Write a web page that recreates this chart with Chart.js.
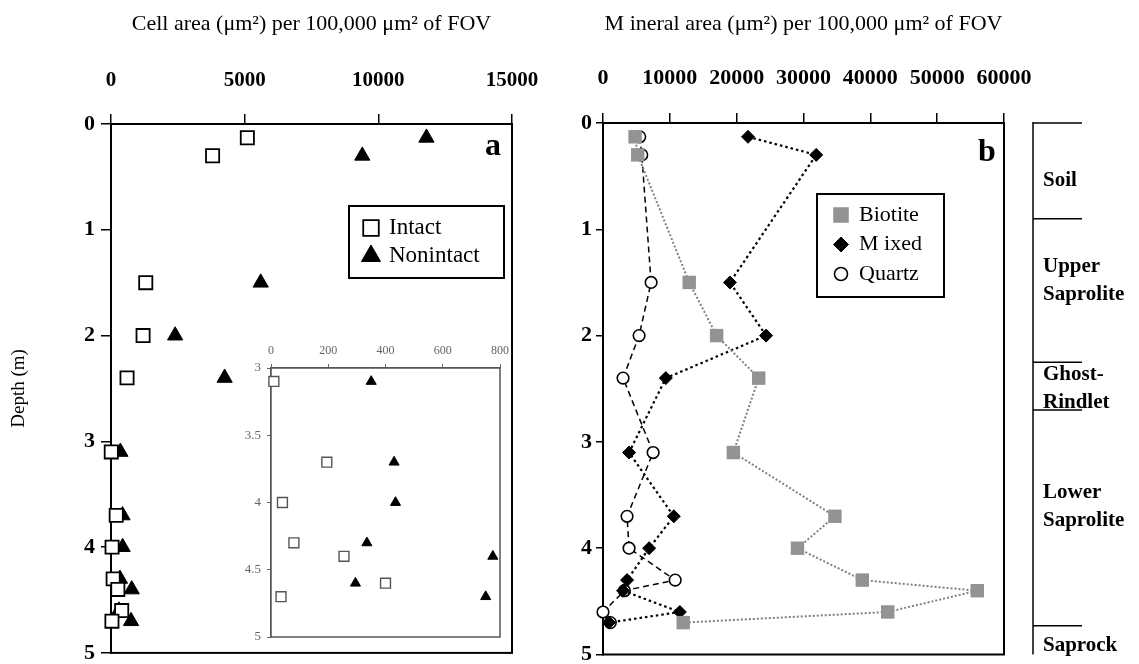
<!DOCTYPE html>
<html>
<head>
<meta charset="utf-8">
<title>Cell and mineral area with depth</title>
<script src="https://cdn.jsdelivr.net/npm/chart.js@4.4.0/dist/chart.umd.min.js"></script>
<style>
  html, body { margin: 0; padding: 0; background: #fff; }
  #wrap { position: relative; width: 1139px; height: 664px; overflow: hidden; }
  .box { position: absolute; }
</style>
</head>
<body>
<div id="wrap">
  <div class="box" style="left:0;top:0"><canvas id="cellChart" width="560" height="664"></canvas></div>
  <div class="box" style="left:560px;top:0"><canvas id="mineralChart" width="579" height="664"></canvas></div>
  <div class="box" style="left:225px;top:330px"><canvas id="insetChart" width="290" height="320"></canvas></div>
</div>
<script>
// sample depths (m), same for both panels
const depths = [0.13, 0.3, 1.5, 2.0, 2.4, 3.1, 3.7, 4.0, 4.3, 4.4, 4.6, 4.7];

// panel a: cell area (um2) per 100,000 um2 of FOV
const intact    = [5100, 3800, 1300, 1200, 600, 10, 195, 40, 80, 255, 400, 35];
const nonintact = [11800, 9400, 5600, 2400, 4250, 350, 430, 435, 335, 775, 295, 750];

// panel b: mineral area (um2) per 100,000 um2 of FOV
const biotite = [4800, 5200, 12900, 17000, 23300, 19500, 34700, 29100, 38800, 56000, 42600, 12000];
const mixed   = [21700, 31900, 19000, 24400, 9400, 3900, 10600, 6900, 3600, 3000, 11500, 900];
const quartz  = [5500, 5800, 7200, 5400, 3000, 7500, 3600, 3900, 10800, 3200, 0, 1100];

// axis ticks
const cellTicks    = [0, 5000, 10000, 15000];
const mineralTicks = [0, 10000, 20000, 30000, 40000, 50000, 60000];
const depthTicks   = [0, 1, 2, 3, 4, 5];
const insetXTicks  = [0, 200, 400, 600, 800];
const insetYTicks  = [3, 3.5, 4, 4.5, 5];

// weathering zones on the right of panel b
const zoneNames = ["Soil", "Upper\nSaprolite", "Ghost-\nRindlet", "Lower\nSaprolite", "Saprock"];
const zoneTops  = [0, 0.9, 2.25, 2.7, 4.73];

const serif = "'Liberation Serif', 'Times New Roman', serif";
Chart.defaults.font.family = serif;
Chart.defaults.color = "#000";

const toPoints = (vals) => vals.map((v, i) => ({ x: v, y: depths[i] }));
const setTicks = (list) => (s) => { s.ticks = list.map(value => ({ value })); };
const plain = (v) => String(v);

// --- plugins ---
const frame = {
  id: "frame",
  beforeDatasetsDraw(chart, args, o) {
    const a = chart.chartArea, ctx = chart.ctx;
    ctx.save();
    if (o.fill) {
      ctx.fillStyle = o.fill;
      ctx.fillRect(a.left, a.top, a.right - a.left, a.bottom - a.top);
    }
    ctx.strokeStyle = o.color || "#000";
    ctx.lineWidth = o.width || 2;
    ctx.strokeRect(a.left, a.top, a.right - a.left, a.bottom - a.top);
    ctx.restore();
  }
};

const boxLegend = {
  id: "boxLegend",
  afterDraw(chart, args, o) {
    const ctx = chart.ctx;
    ctx.save();
    ctx.fillStyle = "#fff";
    ctx.fillRect(o.left, o.top, o.width, o.height);
    ctx.strokeStyle = "#000";
    ctx.lineWidth = 2;
    ctx.strokeRect(o.left, o.top, o.width, o.height);
    chart.data.datasets.forEach((ds, i) => {
      const y = o.top + o.firstRow + i * o.rowGap;
      ctx.fillStyle = ds.pointBackgroundColor;
      ctx.strokeStyle = ds.pointBorderColor;
      ctx.lineWidth = ds.pointBorderWidth;
      Chart.helpers.drawPoint(ctx, {
        pointStyle: ds.pointStyle, rotation: 0,
        radius: o.radii[i], borderWidth: ds.pointBorderWidth
      }, o.left + o.markerX, y);
      ctx.fillStyle = "#000";
      ctx.font = o.font;
      ctx.textAlign = "left";
      ctx.textBaseline = "middle";
      ctx.fillText(ds.label, o.left + o.textX, y);
    });
    ctx.restore();
  }
};

const panelTag = {
  id: "panelTag",
  afterDraw(chart, args, o) {
    const ctx = chart.ctx;
    ctx.save();
    ctx.font = "bold 32px " + serif;
    ctx.textAlign = "center";
    ctx.textBaseline = "middle";
    ctx.fillStyle = "#000";
    ctx.fillText(o.text, o.x, o.y);
    ctx.restore();
  }
};

const zones = {
  id: "zones",
  afterDraw(chart, args, o) {
    const y = chart.scales.y, ctx = chart.ctx;
    ctx.save();
    ctx.strokeStyle = "#000";
    ctx.lineWidth = 1.5;
    ctx.beginPath();
    ctx.moveTo(o.lineX, y.getPixelForValue(0) - 1);
    ctx.lineTo(o.lineX, y.getPixelForValue(5));
    ctx.stroke();
    zoneTops.forEach(d => {
      const py = y.getPixelForValue(d);
      ctx.beginPath();
      ctx.moveTo(o.lineX, py);
      ctx.lineTo(o.lineX + o.tickLen, py);
      ctx.stroke();
    });
    ctx.font = "bold 21px " + serif;
    ctx.fillStyle = "#000";
    ctx.textAlign = "left";
    ctx.textBaseline = "middle";
    zoneNames.forEach((name, i) => {
      const lines = name.split("\n");
      const py = y.getPixelForValue(o.labelDepths[i]);
      lines.forEach((ln, j) => {
        ctx.fillText(ln, o.textX, py + (j - (lines.length - 1) / 2) * o.lineHeight);
      });
    });
    ctx.restore();
  }
};

// shared axis pieces
function topAxis(min, max, ticks, height, extra) {
  return Object.assign({
    type: "linear", position: "top", min, max,
    afterBuildTicks: setTicks(ticks),
    afterFit: (s) => { s.height = height; s.paddingLeft = 0; s.paddingRight = 0; },
    grid: { drawOnChartArea: false, tickLength: 10, color: "#000", lineWidth: 1.5 },
    border: { color: "#000", width: 2 }
  }, extra);
}
function depthAxis(min, max, ticks, width, extra) {
  return Object.assign({
    type: "linear", position: "left", reverse: true, min, max,
    afterBuildTicks: setTicks(ticks),
    afterFit: (s) => { s.width = width; s.paddingTop = 0; s.paddingBottom = 0; },
    grid: { drawOnChartArea: false, tickLength: 10, color: "#000", lineWidth: 1.5 },
    border: { color: "#000", width: 2 }
  }, extra);
}

const baseOptions = {
  responsive: false,
  animation: false,
  devicePixelRatio: 1,
  events: []
};

// --- panel a ---
new Chart(document.getElementById("cellChart"), {
  type: "scatter",
  data: {
    datasets: [
      {
        label: "Intact", data: toPoints(intact), clip: false,
        pointStyle: "rect", pointRadius: 9.3,
        pointBackgroundColor: "#fff", pointBorderColor: "#000", pointBorderWidth: 1.8
      },
      {
        label: "Nonintact", data: toPoints(nonintact), clip: false,
        pointStyle: "triangle", pointRadius: 8.8,
        pointBackgroundColor: "#000", pointBorderColor: "#000", pointBorderWidth: 1
      }
    ]
  },
  options: Object.assign({}, baseOptions, {
    layout: { padding: { left: 0, top: 0, right: 48, bottom: 11 } },
    plugins: {
      legend: { display: false },
      tooltip: { enabled: false },
      frame: { width: 2 },
      boxLegend: {
        left: 349, top: 206, width: 155, height: 72,
        firstRow: 22, rowGap: 28, markerX: 22, textX: 40,
        radii: [11, 11], font: "23px " + serif
      },
      panelTag: { text: "a", x: 493, y: 147 }
    },
    scales: {
      x: topAxis(0, 15000, cellTicks, 124, {
        ticks: { font: { size: 21, weight: "bold" }, padding: 21, callback: plain, maxRotation: 0, autoSkip: false },
        title: { display: true, text: "Cell area (μm²) per 100,000 μm² of FOV", font: { size: 22 }, padding: { top: 11, bottom: 0 } }
      }),
      y: depthAxis(0, 5, depthTicks, 111, {
        ticks: { font: { size: 22, weight: "bold" }, padding: 6, callback: plain },
        title: { display: true, text: "Depth (m)", font: { size: 19 }, padding: { top: 8, bottom: 0 } }
      })
    }
  }),
  plugins: [frame, boxLegend, panelTag]
});

// --- inset of panel a (deeper samples) ---
const deep = depths.map((d, i) => i).filter(i => depths[i] >= 3);
new Chart(document.getElementById("insetChart"), {
  type: "scatter",
  data: {
    datasets: [
      {
        label: "Intact", data: deep.map(i => ({ x: intact[i], y: depths[i] })), clip: false,
        pointStyle: "rect", pointRadius: 7,
        pointBackgroundColor: "#fff", pointBorderColor: "#555", pointBorderWidth: 1.4
      },
      {
        label: "Nonintact", data: deep.map(i => ({ x: nonintact[i], y: depths[i] })), clip: false,
        pointStyle: "triangle", pointRadius: 5.8,
        pointBackgroundColor: "#000", pointBorderColor: "#000", pointBorderWidth: 1
      }
    ]
  },
  options: Object.assign({}, baseOptions, {
    layout: { padding: { left: 0, top: 0, right: 15, bottom: 13 } },
    plugins: {
      legend: { display: false },
      tooltip: { enabled: false },
      frame: { fill: "#fff", color: "#555", width: 1.5 }
    },
    scales: {
      x: topAxis(0, 800, insetXTicks, 38, {
        ticks: { font: { size: 12 }, color: "#666", padding: 6, callback: plain, maxRotation: 0, autoSkip: false },
        grid: { drawOnChartArea: false, tickLength: 4, color: "#666", lineWidth: 1 },
        border: { color: "#555", width: 1.5 }
      }),
      y: depthAxis(3, 5, insetYTicks, 46, {
        ticks: { font: { size: 13 }, color: "#666", padding: 6, callback: plain },
        grid: { drawOnChartArea: false, tickLength: 4, color: "#666", lineWidth: 1 },
        border: { color: "#555", width: 1.5 }
      })
    }
  }),
  plugins: [frame]
});

// --- panel b ---
new Chart(document.getElementById("mineralChart"), {
  type: "scatter",
  data: {
    datasets: [
      {
        label: "Biotite", data: toPoints(biotite), showLine: true, clip: false,
        borderColor: "#808080", borderWidth: 2, borderDash: [2, 2], tension: 0,
        pointStyle: "rect", pointRadius: 9.5,
        pointBackgroundColor: "#939393", pointBorderColor: "#939393", pointBorderWidth: 0
      },
      {
        label: "M ixed", data: toPoints(mixed), showLine: true, clip: false,
        borderColor: "#000", borderWidth: 2.2, borderDash: [2.5, 3], tension: 0,
        pointStyle: "rectRot", pointRadius: 6.5,
        pointBackgroundColor: "#000", pointBorderColor: "#000", pointBorderWidth: 1
      },
      {
        label: "Quartz", data: toPoints(quartz), showLine: true, clip: false,
        borderColor: "#000", borderWidth: 1.5, borderDash: [6, 4], tension: 0,
        pointStyle: "circle", pointRadius: 5.8,
        pointBackgroundColor: "#fff", pointBorderColor: "#000", pointBorderWidth: 1.6
      }
    ]
  },
  options: Object.assign({}, baseOptions, {
    layout: { padding: { left: 0, top: 0, right: 135, bottom: 8 } },
    plugins: {
      legend: { display: false },
      tooltip: { enabled: false },
      frame: { width: 2 },
      boxLegend: {
        left: 257, top: 194, width: 127, height: 103,
        firstRow: 21, rowGap: 29.5, markerX: 24, textX: 42,
        radii: [11, 7.5, 6.5], font: "22px " + serif
      },
      panelTag: { text: "b", x: 427, y: 153 },
      zones: {
        lineX: 473, tickLen: 49, textX: 483, lineHeight: 28,
        labelDepths: [0.54, 1.48, 2.5, 3.61, 4.92]
      }
    },
    scales: {
      x: topAxis(0, 60000, mineralTicks, 123, {
        ticks: { font: { size: 22, weight: "bold" }, padding: 21, callback: plain, maxRotation: 0, autoSkip: false },
        title: { display: true, text: "M ineral area (μm²) per 100,000 μm² of FOV", font: { size: 22 }, padding: { top: 11, bottom: 0 } }
      }),
      y: depthAxis(0, 5, depthTicks, 43, {
        ticks: { font: { size: 22, weight: "bold" }, padding: 4, callback: plain },
        grid: { drawOnChartArea: false, tickLength: 7, color: "#000", lineWidth: 1.5 }
      })
    }
  }),
  plugins: [frame, boxLegend, panelTag, zones]
});
</script>
</body>
</html>
